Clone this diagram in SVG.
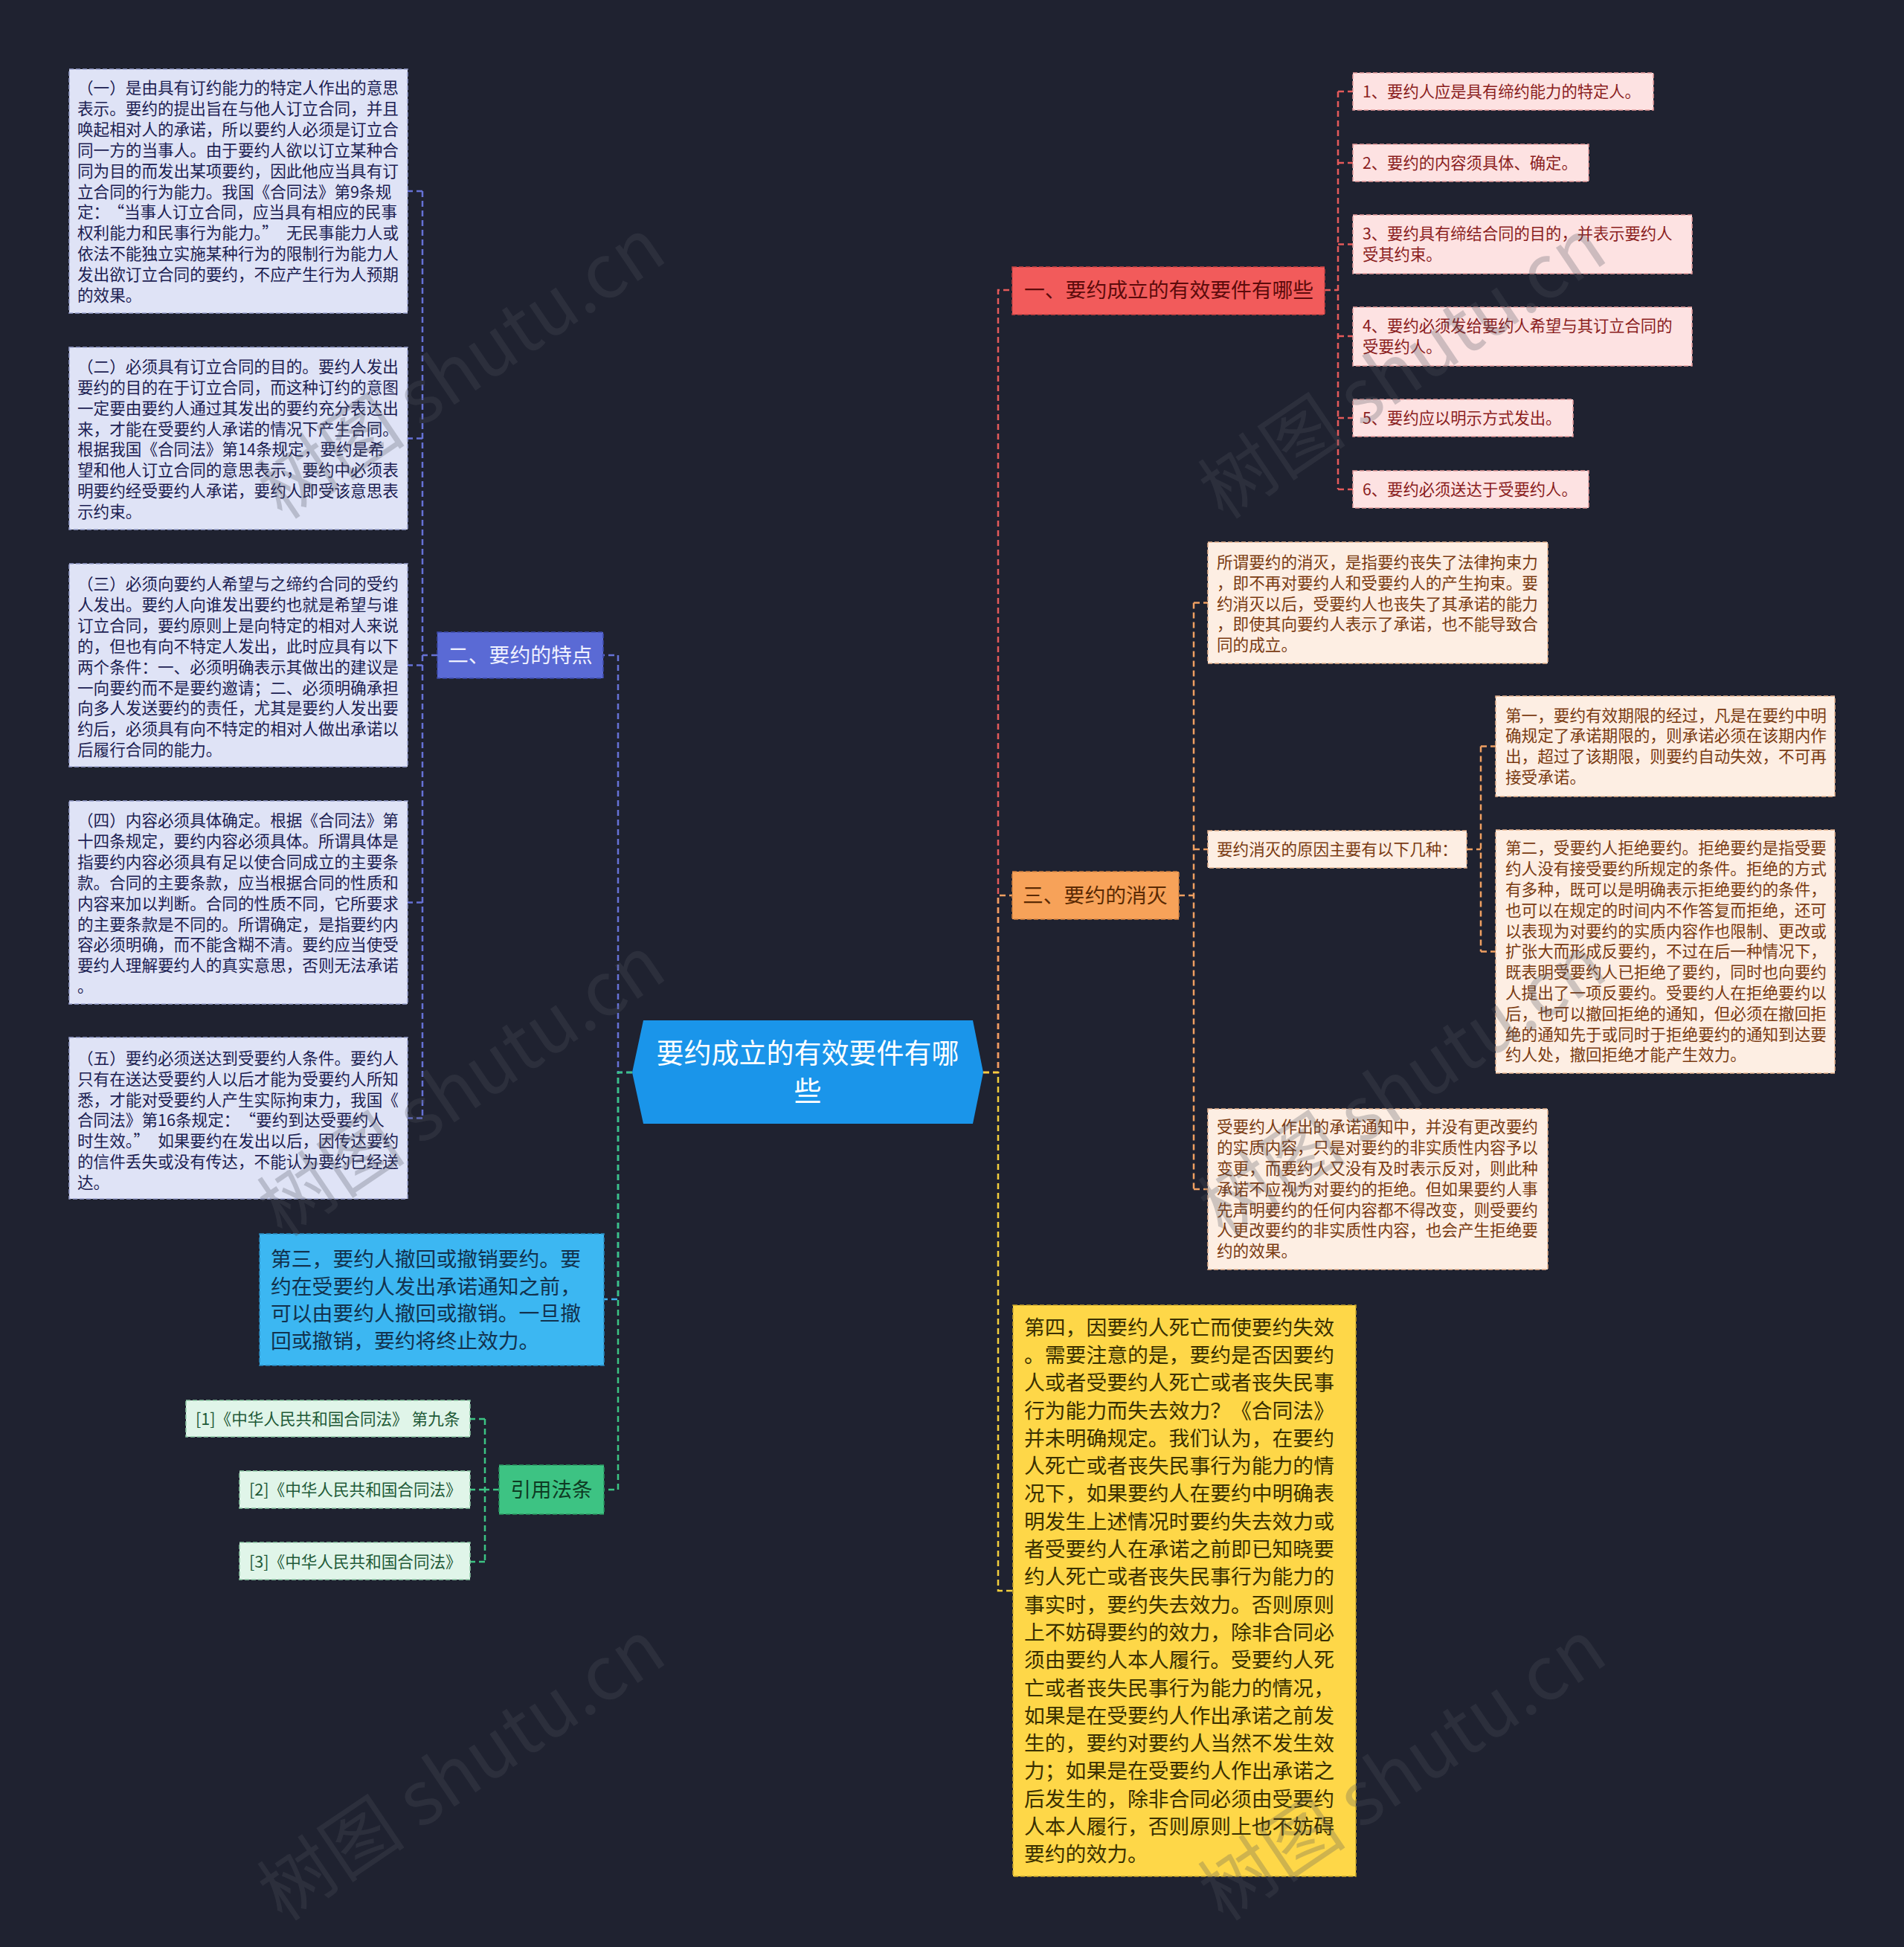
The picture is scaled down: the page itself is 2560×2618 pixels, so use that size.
<svg xmlns="http://www.w3.org/2000/svg" width="2560" height="2618" viewBox="0 0 2560 2618">
<style>
text{font-family:"Noto Sans CJK SC","Noto Sans",sans-serif;}
.c{fill:none;stroke-width:2.5;stroke-dasharray:8 5;}
.cr{stroke:#e45a5a}.co{stroke:#f0a062}.cy{stroke:#f3cf3c}.cb{stroke:#6672d6}.cs{stroke:#3cb2ee}.cg{stroke:#3cc483}
.bx{stroke-width:1.5;stroke-dasharray:6 3;}
.lav{fill:#dfe3f6;stroke:#9aa2cf}.lavt{fill:#1c2152;font-size:21.6px}
.pk{fill:#fde2e2;stroke:#e59a9a}.pkt{fill:#8a1d1d;font-size:21.3px}
.pe{fill:#fdeee3;stroke:#e7b48e}.pet{fill:#7a3b12;font-size:21.6px}
.mi{fill:#e0f5e9;stroke:#8fcaa7}.mit{fill:#1f5a38;font-size:21.6px}
.wm{fill:#50545f;opacity:0.27;font-size:100px}
</style>
<rect width="2560" height="2618" fill="#1f2230"/>
<g id="connectors">
<path class="c cr" d="M1322 1442H1342V390H1361"/>
<path class="c cr" d="M1781 390H1799M1799 123V658M1799 123H1819M1799 219H1819M1799 328.5H1819M1799 452H1819M1799 562H1819M1799 658H1819"/>
<path class="c co" d="M1322 1442H1342V1204H1361"/>
<path class="c co" d="M1585 1204H1605M1605 810.5V1599M1605 810.5H1624M1605 1142H1624M1605 1599H1624"/>
<path class="c co" d="M1972 1142H1991M1991 1003.5V1279.5M1991 1003.5H2011M1991 1279.5H2011"/>
<path class="c cy" d="M1322 1442H1342V2139H1362"/>
<path class="c cb" d="M850 1442H831V881H811"/>
<path class="c cs" d="M850 1442H831V1747H812"/>
<path class="c cg" d="M850 1442H831V2003H812"/>
<path class="c cb" d="M588 881H568M568 257V1503.5M568 257H548M568 589.5H548M568 894.5H548M568 1213.5H548M568 1503.5H548"/>
<path class="c cg" d="M671 2003H652M652 1908V2100M652 1908H632M652 2003H632M652 2100H632"/>
</g>
<g id="center">
<polygon points="865,1372 1308,1372 1322,1442 1308,1511 865,1511 850,1442" fill="#1a95ea"/>
<text x="1086" y="1430" text-anchor="middle" font-size="37" fill="#ffffff">要约成立的有效要件有哪</text>
<text x="1086" y="1481" text-anchor="middle" font-size="37" fill="#ffffff">些</text>
</g>
<g id="n1">
<rect class="bx" x="1361" y="359" width="420" height="64" fill="#f25b5b" stroke="#c94444"/>
<text x="1377" y="400" font-size="27.8" fill="#5c0b0b">一、要约成立的有效要件有哪些</text>
</g>
<g id="n1-1"><rect class="bx pk" x="1819" y="98" width="404" height="50"/><text class="pkt" x="1832" y="130.7">1、要约人应是具有缔约能力的特定人。</text></g>
<g id="n1-2"><rect class="bx pk" x="1819" y="194" width="317" height="50"/><text class="pkt" x="1832" y="226.7">2、要约的内容须具体、确定。</text></g>
<g id="n1-3"><rect class="bx pk" x="1819" y="289" width="456" height="79"/><text class="pkt" x="1832" y="322.3">3、要约具有缔结合同的目的，并表示要约人</text><text class="pkt" x="1832" y="350">受其约束。</text></g>
<g id="n1-4"><rect class="bx pk" x="1819" y="413" width="456" height="79"/><text class="pkt" x="1832" y="445.8">4、要约必须发给要约人希望与其订立合同的</text><text class="pkt" x="1832" y="473.5">受要约人。</text></g>
<g id="n1-5"><rect class="bx pk" x="1819" y="537" width="296" height="50"/><text class="pkt" x="1832" y="569.7">5、要约应以明示方式发出。</text></g>
<g id="n1-6"><rect class="bx pk" x="1819" y="633" width="317" height="50"/><text class="pkt" x="1832" y="665.7">6、要约必须送达于受要约人。</text></g>
<g id="n3">
<rect class="bx" x="1361" y="1172" width="224" height="64" fill="#f7a259" stroke="#cf8040"/>
<text x="1375" y="1214" font-size="27.8" fill="#5a2a04">三、要约的消灭</text>
</g>
<g id="n3-1"><rect class="bx pe" x="1624" y="729" width="457" height="163"/>
<text class="pet" x="1636" y="764.3">所谓要约的消灭，是指要约丧失了法律拘束力</text>
<text class="pet" x="1636" y="791.9">，即不再对要约人和受要约人的产生拘束。要</text>
<text class="pet" x="1636" y="819.5">约消灭以后，受要约人也丧失了其承诺的能力</text>
<text class="pet" x="1636" y="847.1">，即使其向要约人表示了承诺，也不能导致合</text>
<text class="pet" x="1636" y="874.7">同的成立。</text>
</g>
<g id="n3-2"><rect class="bx pe" x="1624" y="1117" width="348" height="50"/><text class="pet" x="1636" y="1149.6" font-size="21">要约消灭的原因主要有以下几种：</text></g>
<g id="n3-2-1"><rect class="bx pe" x="2011" y="936" width="456" height="135"/>
<text class="pet" x="2024" y="969.6">第一，要约有效期限的经过，凡是在要约中明</text>
<text class="pet" x="2024" y="997.4">确规定了承诺期限的，则承诺必须在该期内作</text>
<text class="pet" x="2024" y="1025.2">出，超过了该期限，则要约自动失效，不可再</text>
<text class="pet" x="2024" y="1053">接受承诺。</text>
</g>
<g id="n3-2-2"><rect class="bx pe" x="2011" y="1116" width="456" height="327"/>
<text class="pet" x="2024" y="1148.3">第二，受要约人拒绝要约。拒绝要约是指受要</text>
<text class="pet" x="2024" y="1176.1">约人没有接受要约所规定的条件。拒绝的方式</text>
<text class="pet" x="2024" y="1203.9">有多种，既可以是明确表示拒绝要约的条件，</text>
<text class="pet" x="2024" y="1231.7">也可以在规定的时间内不作答复而拒绝，还可</text>
<text class="pet" x="2024" y="1259.5">以表现为对要约的实质内容作也限制、更改或</text>
<text class="pet" x="2024" y="1287.3">扩张大而形成反要约，不过在后一种情况下，</text>
<text class="pet" x="2024" y="1315.1">既表明受要约人已拒绝了要约，同时也向要约</text>
<text class="pet" x="2024" y="1342.9">人提出了一项反要约。受要约人在拒绝要约以</text>
<text class="pet" x="2024" y="1370.7">后，也可以撤回拒绝的通知，但必须在撤回拒</text>
<text class="pet" x="2024" y="1398.5">绝的通知先于或同时于拒绝要约的通知到达要</text>
<text class="pet" x="2024" y="1426.3">约人处，撤回拒绝才能产生效力。</text>
</g>
<g id="n3-3"><rect class="bx pe" x="1624" y="1491" width="457" height="216"/>
<text class="pet" x="1636" y="1523.4">受要约人作出的承诺通知中，并没有更改要约</text>
<text class="pet" x="1636" y="1551.2">的实质内容，只是对要约的非实质性内容予以</text>
<text class="pet" x="1636" y="1579">变更，而要约人又没有及时表示反对，则此种</text>
<text class="pet" x="1636" y="1606.8">承诺不应视为对要约的拒绝。但如果要约人事</text>
<text class="pet" x="1636" y="1634.6">先声明要约的任何内容都不得改变，则受要约</text>
<text class="pet" x="1636" y="1662.4">人更改要约的非实质性内容，也会产生拒绝要</text>
<text class="pet" x="1636" y="1690.2">约的效果。</text>
</g>
<g id="n4"><rect class="bx" x="1362" y="1755" width="461" height="768" fill="#fed748" stroke="#c9a62a"/>
<g font-size="27.8" fill="#3a3000">
<text x="1377" y="1794.6">第四，因要约人死亡而使要约失效</text>
<text x="1377" y="1831.9">。需要注意的是，要约是否因要约</text>
<text x="1377" y="1869.2">人或者受要约人死亡或者丧失民事</text>
<text x="1377" y="1906.5">行为能力而失去效力？《合同法》</text>
<text x="1377" y="1943.8">并未明确规定。我们认为，在要约</text>
<text x="1377" y="1981.1">人死亡或者丧失民事行为能力的情</text>
<text x="1377" y="2018.4">况下，如果要约人在要约中明确表</text>
<text x="1377" y="2055.7">明发生上述情况时要约失去效力或</text>
<text x="1377" y="2093">者受要约人在承诺之前即已知晓要</text>
<text x="1377" y="2130.3">约人死亡或者丧失民事行为能力的</text>
<text x="1377" y="2167.6">事实时，要约失去效力。否则原则</text>
<text x="1377" y="2204.9">上不妨碍要约的效力，除非合同必</text>
<text x="1377" y="2242.2">须由要约人本人履行。受要约人死</text>
<text x="1377" y="2279.5">亡或者丧失民事行为能力的情况，</text>
<text x="1377" y="2316.8">如果是在受要约人作出承诺之前发</text>
<text x="1377" y="2354.1">生的，要约对要约人当然不发生效</text>
<text x="1377" y="2391.4">力；如果是在受要约人作出承诺之</text>
<text x="1377" y="2428.7">后发生的，除非合同必须由受要约</text>
<text x="1377" y="2466">人本人履行，否则原则上也不妨碍</text>
<text x="1377" y="2503.3">要约的效力。</text>
</g></g>
<g id="n2"><rect class="bx" x="588" y="850" width="223" height="62" fill="#5a6ad5" stroke="#3c4aa8"/>
<text x="602" y="891" font-size="27.8" fill="#eef0ff">二、要约的特点</text></g>
<g id="n2-1"><rect class="bx lav" x="93" y="93" width="455" height="328"/>
<text class="lavt" x="104" y="126.3">（一）是由具有订约能力的特定人作出的意思</text>
<text class="lavt" x="104" y="154.2">表示。要约的提出旨在与他人订立合同，并且</text>
<text class="lavt" x="104" y="182">唤起相对人的承诺，所以要约人必须是订立合</text>
<text class="lavt" x="104" y="209.9">同一方的当事人。由于要约人欲以订立某种合</text>
<text class="lavt" x="104" y="237.7">同为目的而发出某项要约，因此他应当具有订</text>
<text class="lavt" x="104" y="265.6">立合同的行为能力。我国《合同法》第9条规</text>
<text class="lavt" x="104" y="293.4">定：<tspan dx="9">“当事人订立合同，应当具有相应的民事</tspan></text>
<text class="lavt" x="104" y="321.3">权利能力和民事行为能力。”<tspan dx="11">无民事能力人或</tspan></text>
<text class="lavt" x="104" y="349.1">依法不能独立实施某种行为的限制行为能力人</text>
<text class="lavt" x="104" y="377">发出欲订立合同的要约，不应产生行为人预期</text>
<text class="lavt" x="104" y="404.8">的效果。</text>
</g>
<g id="n2-2"><rect class="bx lav" x="93" y="467" width="455" height="245"/>
<text class="lavt" x="104" y="501">（二）必须具有订立合同的目的。要约人发出</text>
<text class="lavt" x="104" y="528.9">要约的目的在于订立合同，而这种订约的意图</text>
<text class="lavt" x="104" y="556.7">一定要由要约人通过其发出的要约充分表达出</text>
<text class="lavt" x="104" y="584.6">来，才能在受要约人承诺的情况下产生合同。</text>
<text class="lavt" x="104" y="612.4">根据我国《合同法》第14条规定，要约是希</text>
<text class="lavt" x="104" y="640.3">望和他人订立合同的意思表示，要约中必须表</text>
<text class="lavt" x="104" y="668.1">明要约经受要约人承诺，要约人即受该意思表</text>
<text class="lavt" x="104" y="696">示约束。</text>
</g>
<g id="n2-3"><rect class="bx lav" x="93" y="758" width="455" height="273"/>
<text class="lavt" x="104" y="793">（三）必须向要约人希望与之缔约合同的受约</text>
<text class="lavt" x="104" y="820.9">人发出。要约人向谁发出要约也就是希望与谁</text>
<text class="lavt" x="104" y="848.8">订立合同，要约原则上是向特定的相对人来说</text>
<text class="lavt" x="104" y="876.7">的，但也有向不特定人发出，此时应具有以下</text>
<text class="lavt" x="104" y="904.6">两个条件：一、必须明确表示其做出的建议是</text>
<text class="lavt" x="104" y="932.5">一向要约而不是要约邀请；二、必须明确承担</text>
<text class="lavt" x="104" y="960.4">向多人发送要约的责任，尤其是要约人发出要</text>
<text class="lavt" x="104" y="988.3">约后，必须具有向不特定的相对人做出承诺以</text>
<text class="lavt" x="104" y="1016.2">后履行合同的能力。</text>
</g>
<g id="n2-4"><rect class="bx lav" x="93" y="1077" width="455" height="273"/>
<text class="lavt" x="104" y="1111">（四）内容必须具体确定。根据《合同法》第</text>
<text class="lavt" x="104" y="1138.9">十四条规定，要约内容必须具体。所谓具体是</text>
<text class="lavt" x="104" y="1166.8">指要约内容必须具有足以使合同成立的主要条</text>
<text class="lavt" x="104" y="1194.7">款。合同的主要条款，应当根据合同的性质和</text>
<text class="lavt" x="104" y="1222.6">内容来加以判断。合同的性质不同，它所要求</text>
<text class="lavt" x="104" y="1250.5">的主要条款是不同的。所谓确定，是指要约内</text>
<text class="lavt" x="104" y="1278.4">容必须明确，而不能含糊不清。要约应当使受</text>
<text class="lavt" x="104" y="1306.3">要约人理解要约人的真实意思，否则无法承诺</text>
<text class="lavt" x="104" y="1334.2">。</text>
</g>
<g id="n2-5"><rect class="bx lav" x="93" y="1395" width="455" height="217"/>
<text class="lavt" x="104" y="1431">（五）要约必须送达到受要约人条件。要约人</text>
<text class="lavt" x="104" y="1458.8">只有在送达受要约人以后才能为受要约人所知</text>
<text class="lavt" x="104" y="1486.6">悉，才能对受要约人产生实际拘束力，我国《</text>
<text class="lavt" x="104" y="1514.4">合同法》第16条规定：<tspan dx="11">“要约到达受要约人</tspan></text>
<text class="lavt" x="104" y="1542.2">时生效。”<tspan dx="11">如果要约在发出以后，因传达要约</tspan></text>
<text class="lavt" x="104" y="1570">的信件丢失或没有传达，不能认为要约已经送</text>
<text class="lavt" x="104" y="1597.8">达。</text>
</g>
<g id="n5"><rect class="bx" x="349" y="1659" width="463" height="177" fill="#3cb7f2" stroke="#2a8cc0"/>
<g font-size="27.8" fill="#12324e">
<text x="364" y="1703">第三，要约人撤回或撤销要约。要</text>
<text x="364" y="1739.7">约在受要约人发出承诺通知之前，</text>
<text x="364" y="1776.4">可以由要约人撤回或撤销。一旦撤</text>
<text x="364" y="1813.1">回或撤销，要约将终止效力。</text>
</g></g>
<g id="n6"><rect class="bx" x="671" y="1970" width="141" height="66" fill="#3dc383" stroke="#2a9560"/>
<text x="741.5" y="2013" text-anchor="middle" font-size="27.5" fill="#0e3b23">引用法条</text></g>
<g id="n6-1"><rect class="bx mi" x="250" y="1883" width="382" height="49"/><text class="mit" x="263" y="1915.6">[1]《中华人民共和国合同法》 第九条</text></g>
<g id="n6-2"><rect class="bx mi" x="322" y="1978" width="310" height="50"/><text class="mit" x="335" y="2010.6">[2]《中华人民共和国合同法》</text></g>
<g id="n6-3"><rect class="bx mi" x="322" y="2074" width="310" height="50"/><text class="mit" x="335" y="2107.6">[3]《中华人民共和国合同法》</text></g>
<g id="watermark">
<text class="wm" transform="translate(380 700) rotate(-34)">树图 shutu.cn</text>
<text class="wm" transform="translate(1645 700) rotate(-34)">树图 shutu.cn</text>
<text class="wm" transform="translate(380 1665) rotate(-34)">树图 shutu.cn</text>
<text class="wm" transform="translate(1645 1665) rotate(-34)">树图 shutu.cn</text>
<text class="wm" transform="translate(380 2585) rotate(-34)">树图 shutu.cn</text>
<text class="wm" transform="translate(1645 2585) rotate(-34)">树图 shutu.cn</text>
</g>
</svg>
